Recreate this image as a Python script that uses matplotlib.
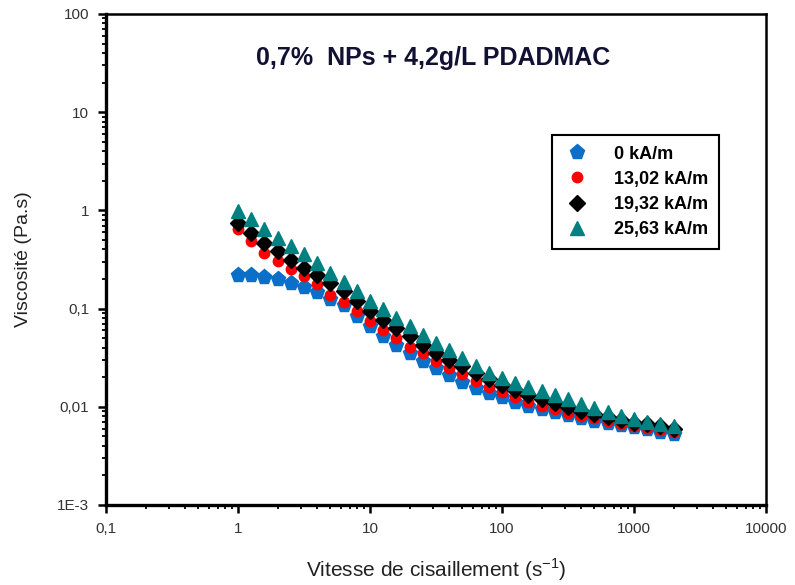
import numpy as np
import matplotlib
matplotlib.use('Agg')
import matplotlib.pyplot as plt
from matplotlib.ticker import LogLocator, NullFormatter, FixedLocator, FixedFormatter

plt.rcParams['font.family'] = ['Liberation Sans', 'DejaVu Sans']

# shear rate, 10 points per decade from 1 to ~2000 s-1
shear = 10 ** (np.arange(34) / 10.0)

# viscosity (Pa.s)
visc_0 = [0.222, 0.222, 0.208, 0.198, 0.184, 0.164, 0.146, 0.124, 0.108, 0.085,
          0.067, 0.053, 0.043, 0.0356, 0.029, 0.025, 0.0212, 0.018, 0.0155, 0.0138,
          0.0125, 0.0113, 0.0103, 0.0095, 0.0088, 0.0082, 0.0077, 0.0072, 0.0068, 0.0065,
          0.0062, 0.0059, 0.0056, 0.0053]
visc_13 = [0.64, 0.486, 0.372, 0.303, 0.25, 0.214, 0.176, 0.139, 0.117, 0.094,
           0.074, 0.061, 0.0506, 0.041, 0.0356, 0.029, 0.025, 0.0215, 0.0185, 0.016,
           0.014, 0.0125, 0.0112, 0.0102, 0.0094, 0.0087, 0.0081, 0.0076, 0.0071, 0.0067,
           0.0064, 0.0061, 0.0058, 0.0056]
visc_19 = [0.748, 0.59, 0.468, 0.384, 0.316, 0.26, 0.222, 0.183, 0.150, 0.119,
           0.094, 0.077, 0.0635, 0.052, 0.043, 0.035, 0.030, 0.0258, 0.022, 0.019,
           0.0165, 0.0147, 0.0132, 0.0119, 0.0108, 0.0099, 0.0091, 0.0084, 0.0078, 0.0073,
           0.0069, 0.0066, 0.0063, 0.0060]
visc_25 = [0.984, 0.81, 0.64, 0.526, 0.432, 0.356, 0.292, 0.231, 0.186, 0.150,
           0.119, 0.098, 0.080, 0.066, 0.054, 0.0447, 0.038, 0.0314, 0.026, 0.0222,
           0.0195, 0.0176, 0.016, 0.0145, 0.0132, 0.0119, 0.0107, 0.0097, 0.0088, 0.0081,
           0.0075, 0.0070, 0.0066, 0.0063]

labels = ['0 kA/m', '13,02 kA/m', '19,32 kA/m', '25,63 kA/m']
x_ticks = [0.1, 1, 10, 100, 1000, 10000]
x_ticklabels = ['0,1', '1', '10', '100', '1000', '10000']
y_ticks = [1e-3, 1e-2, 1e-1, 1, 10, 100]
y_ticklabels = ['1E-3', '0,01', '0,1', '1', '10', '100']

fig = plt.figure(figsize=(7.95, 5.85), dpi=100)
ax = fig.add_axes([0.1333, 0.1368, 0.8302, 0.8393])

ax.plot(shear, visc_0, 'p', color='#0a6fc9', ms=11, mec='#0a6fc9', label=labels[0])
ax.plot(shear, visc_13, 'o', color='#ff0000', ms=7.5, mec='#ff0000', label=labels[1])
ax.plot(shear, visc_19, 'D', color='black', ms=8.5, label=labels[2])
ax.plot(shear, visc_25, '^', color='#008080', ms=10.5, mec='#008080', label=labels[3])

ax.set_xscale('log')
ax.set_yscale('log')
ax.set_xlim(0.1, 10000)
ax.set_ylim(1e-3, 100)

ax.xaxis.set_major_locator(FixedLocator(x_ticks))
ax.xaxis.set_major_formatter(FixedFormatter(x_ticklabels))
ax.yaxis.set_major_locator(FixedLocator(y_ticks))
ax.yaxis.set_major_formatter(FixedFormatter(y_ticklabels))
ax.xaxis.set_minor_locator(LogLocator(base=10, subs=np.arange(2, 10), numticks=20))
ax.yaxis.set_minor_locator(LogLocator(base=10, subs=np.arange(2, 10), numticks=20))
ax.xaxis.set_minor_formatter(NullFormatter())
ax.yaxis.set_minor_formatter(NullFormatter())

ax.tick_params(which='major', direction='out', length=6, width=1.8,
               labelsize=11, labelcolor='#333333', pad=6)
ax.tick_params(which='minor', direction='out', length=3, width=1.3)
ax.tick_params(top=False, right=False, which='both')

for side in ['left', 'bottom']:
    ax.spines[side].set_linewidth(2.4)
for side in ['top', 'right']:
    ax.spines[side].set_linewidth(1.8)

ax.set_xlabel(r'Vitesse de cisaillement (s$^{\mathregular{-1}}$)', fontsize=15,
              color='#222222', labelpad=15)
ax.set_ylabel('Viscosité (Pa.s)', fontsize=14, color='#222222', labelpad=18)

ax.text(0.496, 0.91, '0,7%  NPs + 4,2g/L PDADMAC', transform=ax.transAxes,
        ha='center', va='center', fontsize=18, fontweight='bold', color='#111133')

leg = ax.legend(loc='upper left', bbox_to_anchor=(0.676, 0.754), borderaxespad=0,
                frameon=True, fancybox=False, edgecolor='black', framealpha=1,
                prop={'weight': 'bold', 'size': 13}, handletextpad=1.2,
                borderpad=0.6, labelspacing=0.45, handlelength=1.6)
leg.get_frame().set_linewidth(1.5)

fig.savefig('out.png', dpi=100)
